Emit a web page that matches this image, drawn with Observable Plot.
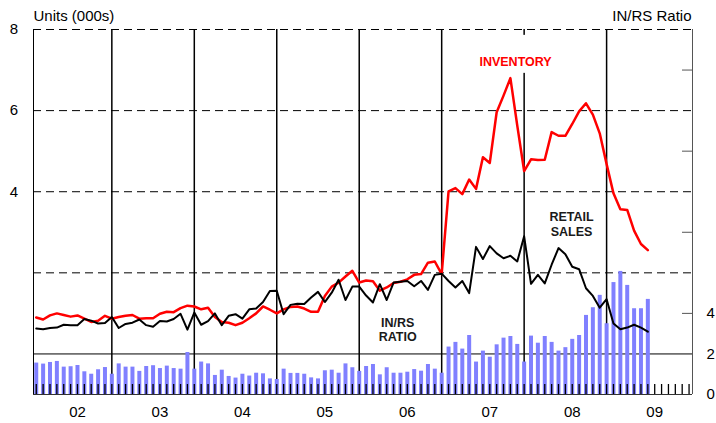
<!DOCTYPE html>
<html>
<head>
<meta charset="utf-8">
<script src="https://cdn.jsdelivr.net/npm/d3@7"></script>
<script src="https://cdn.jsdelivr.net/npm/@observablehq/plot@0.6"></script>
<style>
  html, body { margin: 0; padding: 0; background: #fff; }
</style>
</head>
<body>
<div id="chart"></div>
<script>
// Monthly series, first value = July 2001, last = December 2008
const firstMonth = "2001-07";

// Inventory, units (000s)
const inventory = [
  0.90, 0.85, 0.95, 1.00, 0.96, 0.92, 0.95, 0.87, 0.79, 0.82, 0.94, 0.87,
  0.91, 0.94, 0.96, 0.87, 0.88, 0.88, 0.99, 1.04, 1.03, 1.13, 1.19, 1.17,
  1.10, 1.14, 0.91, 0.79, 0.77, 0.71, 0.77, 0.88, 1.00, 1.17, 1.09, 1.00,
  1.10, 1.16, 1.17, 1.12, 1.04, 1.04, 1.43, 1.66, 1.76, 1.91, 2.05, 1.76,
  1.81, 1.79, 1.56, 1.64, 1.75, 1.78, 1.84, 1.95, 1.97, 2.25, 2.28, 1.97,
  4.01, 4.09, 3.94, 4.30, 4.07, 4.85, 4.71, 5.96, 6.37, 6.80, 5.63, 4.51,
  4.80, 4.78, 4.79, 5.47, 5.38, 5.38, 5.67, 5.98, 6.18, 5.90, 5.44, 4.68,
  3.96, 3.57, 3.55, 3.04, 2.71, 2.56
];

// Retail sales, units (000s)
const retailSales = [
  0.63, 0.61, 0.64, 0.65, 0.72, 0.71, 0.71, 0.86, 0.82, 0.75, 0.76, 0.91,
  0.64, 0.74, 0.77, 0.85, 0.71, 0.67, 0.81, 0.80, 0.86, 0.99, 0.60, 1.02,
  0.72, 0.81, 1.00, 0.71, 0.94, 0.98, 0.87, 1.10, 1.12, 1.28, 1.55, 1.56,
  0.98, 1.21, 1.24, 1.23, 1.39, 1.53, 1.28, 1.51, 1.83, 1.33, 1.66, 1.66,
  1.44, 1.27, 1.72, 1.33, 1.76, 1.78, 1.80, 1.67, 1.80, 1.58, 1.95, 1.98,
  1.80, 1.64, 1.80, 1.50, 2.64, 2.34, 2.66, 2.48, 2.36, 2.42, 2.28, 2.90,
  1.73, 1.95, 1.74, 2.20, 2.61, 2.46, 2.15, 2.09, 1.62, 1.43, 1.14, 1.35,
  0.75, 0.61, 0.65, 0.72, 0.65, 0.55
];

// Inventory / retail sales ratio (right axis)
const ratio = [
  1.55, 1.50, 1.58, 1.63, 1.35, 1.37, 1.43, 1.12, 1.00, 1.22, 1.33, 1.00,
  1.51, 1.35, 1.35, 1.14, 1.38, 1.42, 1.28, 1.40, 1.28, 1.25, 2.07, 1.25,
  1.60, 1.51, 0.94, 1.20, 0.89, 0.81, 1.00, 0.91, 1.05, 1.02, 0.77, 0.74,
  1.25, 1.04, 1.04, 1.00, 0.82, 0.77, 1.17, 1.20, 1.05, 1.51, 1.32, 1.14,
  1.38, 1.48, 0.97, 1.32, 1.05, 1.05, 1.10, 1.23, 1.15, 1.48, 1.25, 1.05,
  2.34, 2.57, 2.24, 2.91, 1.60, 2.14, 1.84, 2.45, 2.78, 2.86, 2.47, 1.60,
  2.88, 2.53, 2.86, 2.57, 2.14, 2.31, 2.72, 2.91, 3.90, 4.28, 4.89, 3.49,
  5.52, 6.07, 5.38, 4.23, 4.23, 4.69
];

const yearLabels = ["02", "03", "04", "05", "06", "07", "08", "09"];
const leftTicks = [4, 6, 8];
const ratioTickLabels = [0, 2, 4];
const ratioMinorTicks = [4, 8, 12, 16];
const gridUnits = [2, 4, 6, 8];
const monthSlots = 96;   // Jul 2001 .. Jun 2009

// ---- derived helpers ----
const toUnits = r => (r - 2) / 2;       // ratio axis -> units axis
const rows = inventory.map((v, i) => ({m: i, inv: v, rs: retailSales[i], ratio: ratio[i]}));
const slots = d3.range(monthSlots);
const janIdx = yearLabels.map((_, k) => 6 + 12 * k);
const juneIdx = d3.range(11, rows.length, 12);
const yearByIdx = new Map(janIdx.map((m, k) => [m, yearLabels[k]]));
const xDomain = [-0.4, 95.5];
const yDomain = [-1, 8];
const invLabel = {x: 69.75, y: 7.19};

const chart = Plot.plot({
  width: 716,
  height: 423,
  marginTop: 29,
  marginBottom: 29,
  marginLeft: 33,
  marginRight: 24,
  style: {fontFamily: "'Liberation Sans', Arial, sans-serif", fontSize: "15px", background: "white", color: "black"},
  x: {type: "linear", domain: xDomain, axis: null},
  y: {type: "linear", domain: yDomain, axis: null},
  marks: [
    Plot.ruleY(gridUnits, {stroke: "black", strokeWidth: 1, strokeDasharray: "8,5"}),
    Plot.ruleY([0], {stroke: "black", strokeWidth: 1}),
    Plot.ruleX(juneIdx, {stroke: "black", strokeWidth: 1.5}),
    // white box behind inventory label
    Plot.rect([invLabel], {x1: "x", x2: "x", y1: "y", y2: "y", insetLeft: -38, insetRight: -38, insetTop: -27, insetBottom: -11, fill: "white"}),
    // ratio bars
    Plot.ruleX(rows, {x: "m", y1: yDomain[0], y2: d => toUnits(d.ratio), stroke: "#8080ff", strokeWidth: 4}),
    // monthly tick marks along the bottom
    Plot.ruleX(slots, {x: d => d, y1: yDomain[0], y2: yDomain[0], insetTop: -10, stroke: "black", strokeWidth: 1.3}),
    // frame
    Plot.ruleY([yDomain[0]], {stroke: "#333", strokeWidth: 1}),
    Plot.ruleX([xDomain[0]], {stroke: "black", strokeWidth: 1}),
    Plot.ruleX([xDomain[1]], {stroke: "#555", strokeWidth: 1}),
    Plot.ruleY(ratioMinorTicks.map(toUnits), {x1: xDomain[1], x2: xDomain[1], insetLeft: -10, stroke: "#555", strokeWidth: 1}),
    // series
    Plot.line(rows, {x: "m", y: "inv", stroke: "#ff0000", strokeWidth: 2.5}),
    Plot.line(rows, {x: "m", y: "rs", stroke: "black", strokeWidth: 2}),
    // labels
    Plot.text(["INVENTORY"], {x: invLabel.x, y: invLabel.y, text: d => d, fill: "#ff0000", fontWeight: "bold", fontSize: 12.5}),
    Plot.text(["RETAIL\nSALES"], {x: 77.9, y: 3.2, text: d => d, fill: "#1a1a1a", fontWeight: "bold", fontSize: 12.5, lineHeight: 1.2}),
    Plot.text(["IN/RS\nRATIO"], {x: 52.6, y: 0.6, text: d => d, fill: "#1a1a1a", fontWeight: "bold", fontSize: 12.5, lineHeight: 1.15}),
    // axes
    Plot.axisY(leftTicks, {anchor: "left", tickSize: 0, tickPadding: 15.5, label: null}),
    Plot.axisY(ratioTickLabels.map(toUnits), {anchor: "right", tickSize: 0, tickPadding: 14, label: null, tickFormat: d => String(d * 2 + 2)}),
    Plot.axisX(janIdx, {anchor: "bottom", tickSize: 0, tickPadding: 12, label: null, tickFormat: d => yearByIdx.get(d)}),
    // axis titles
    Plot.text(["Units (000s)"], {frameAnchor: "top-left", text: d => d, textAnchor: "start", lineAnchor: "bottom", dy: -8.5, fontSize: 15}),
    Plot.text(["IN/RS Ratio"], {frameAnchor: "top-right", text: d => d, textAnchor: "end", lineAnchor: "bottom", dy: -9, dx: -1, fontSize: 15})
  ]
});
document.getElementById("chart").appendChild(chart);
</script>
</body>
</html>
